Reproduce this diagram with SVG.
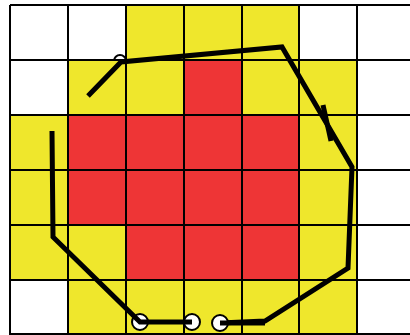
<svg xmlns="http://www.w3.org/2000/svg" width="410" height="335" viewBox="0 0 410 335">
<style>
.y{fill:#EFE72C}
.r{fill:#EE3536}
.g{stroke:#000;stroke-width:2;fill:none}
.p{stroke:#000;stroke-width:5;fill:none;stroke-linejoin:miter}
.c{fill:#fff;stroke:#000;stroke-width:2}
</style>
<rect width="410" height="335" fill="#fff"/>
<g id="cells">
<rect class="y" x="126" y="5" width="173" height="55"/>
<rect class="y" x="68" y="60" width="289" height="55"/>
<rect class="r" x="184" y="60" width="58" height="55"/>
<rect class="y" x="10" y="115" width="347" height="165"/>
<rect class="r" x="68" y="115" width="231" height="110"/>
<rect class="r" x="126" y="225" width="173" height="55"/>
<rect class="y" x="68" y="280" width="289" height="55"/>
</g>
<g id="grid" class="g">
<path d="M10 5H410M10 60H410M10 115H410M10 170H410M10 225H410M10 280H410M10 334H410"/>
<path d="M10 5V335M68 5V335M126 5V335M184 5V335M242 5V335M299 5V335M357 5V335"/>
</g>
<g id="connectors">
<path class="p" d="M88 96L121 62L282 47L352 167L348 268L265 321L220 323"/>
<path class="p" d="M323 105L331 141" stroke-width="4"/>
<path d="M114 61A6 6 0 0 1 126 61" fill="none" stroke="#000" stroke-width="2"/>
<circle class="c" cx="140" cy="322" r="8"/>
<circle class="c" cx="192" cy="322" r="8"/>
<circle class="c" cx="220" cy="323" r="8"/>
<path class="p" d="M52 131L53 237L140 322H192"/>
<path class="p" d="M220 323H265"/>
</g>
</svg>
